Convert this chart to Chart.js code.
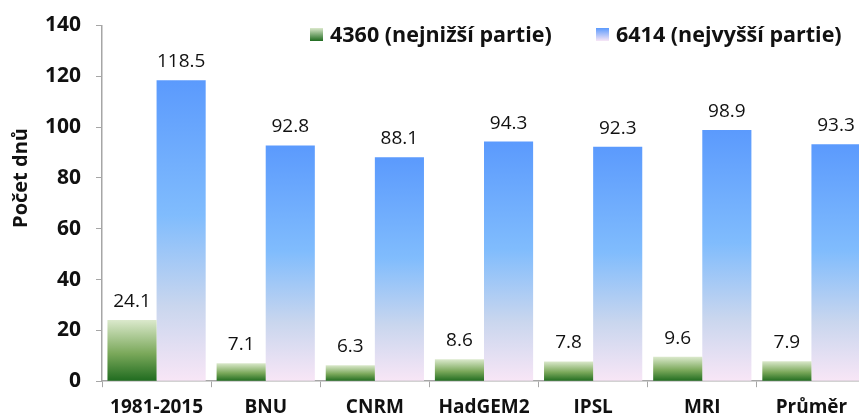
<!DOCTYPE html>
<html>
<head>
<meta charset="utf-8">
<script src="https://cdn.jsdelivr.net/npm/chart.js@4.4.0/dist/chart.umd.min.js"></script>
<style>
  html, body { margin: 0; padding: 0; background: #fff; overflow: hidden; }
  #wrap { position: relative; width: 866px; height: 428px; }
  .leg { position: absolute; top: 19px; font: bold 21.5px "Open Sans", "Liberation Sans", sans-serif; color: #111; white-space: nowrap; }
  .leg span.box { display: inline-block; width: 13px; height: 13px; margin-right: 7px; vertical-align: 1px; }
</style>
</head>
<body>
<div id="wrap">
  <canvas id="chart" width="866" height="428"></canvas>
  <div id="legend"></div>
</div>
<script>
// Počet dnů – low vs. high elevation
const categories = ['1981-2015', 'BNU', 'CNRM', 'HadGEM2', 'IPSL', 'MRI', 'Průměr'];
const lowValues = [24.1, 7.1, 6.3, 8.6, 7.8, 9.6, 7.9];
const highValues = [118.5, 92.8, 88.1, 94.3, 92.3, 98.9, 93.3];
const seriesNames = ['4360 (nejnižší partie)', '6414 (nejvyšší partie)'];
const yTicks = [0, 20, 40, 60, 80, 100, 120, 140];
const yTitle = 'Počet dnů';

const FONT = '"Open Sans", "Liberation Sans", sans-serif';

function barGradient(ctx, stops) {
  const chart = ctx.chart;
  const y = chart.scales.y;
  if (!y || ctx.type !== 'data') return stops[1][1];
  const top = y.getPixelForValue(ctx.raw);
  const bottom = y.getPixelForValue(0);
  if (!isFinite(top) || !isFinite(bottom) || top === bottom) return stops[1][1];
  const g = chart.ctx.createLinearGradient(0, bottom, 0, top);
  stops.forEach(s => g.addColorStop(s[0], s[1]));
  return g;
}

const greenStops = [[0, '#1f6b1f'], [0.45, '#7aa85a'], [1, '#dbe9cc']];
const blueStops = [[0, '#f8e6f6'], [0.25, '#c9d6ee'], [0.55, '#80bcfd'], [1, '#5b9afd']];

// legend (sits inside the plot area, top right)
const legendLeft = [310, 596];
const legendBoxes = ['linear-gradient(#dbe9cc,#1f6b1f)', 'linear-gradient(#5b9afd,#f8e6f6)'];
document.getElementById('legend').innerHTML = seriesNames.map((name, i) =>
  `<div class="leg" style="left:${legendLeft[i]}px"><span class="box" style="background:${legendBoxes[i]}"></span>${name}</div>`
).join('');

const valueLabels = {
  id: 'valueLabels',
  afterDatasetsDraw(chart) {
    const c = chart.ctx;
    c.save();
    c.font = '19px ' + FONT;
    c.fillStyle = '#111';
    c.textAlign = 'center';
    c.textBaseline = 'bottom';
    chart.data.datasets.forEach((ds, i) => {
      chart.getDatasetMeta(i).data.forEach((bar, j) => {
        c.fillText(ds.data[j].toFixed(1), bar.x, bar.y - 9);
      });
    });
    c.restore();
  }
};

// y title sits a bit above the middle of the axis, like the original
const yTitlePlugin = {
  id: 'yTitle',
  afterDraw(chart) {
    const c = chart.ctx;
    c.save();
    c.translate(21, 178);
    c.rotate(-Math.PI / 2);
    c.font = 'bold 20px ' + FONT;
    c.fillStyle = '#111';
    c.textAlign = 'center';
    c.textBaseline = 'middle';
    c.fillText(yTitle, 0, 0);
    c.restore();
  }
};

new Chart(document.getElementById('chart'), {
  type: 'bar',
  data: {
    labels: categories,
    datasets: [
      { label: seriesNames[0], data: lowValues, backgroundColor: ctx => barGradient(ctx, greenStops) },
      { label: seriesNames[1], data: highValues, backgroundColor: ctx => barGradient(ctx, blueStops) }
    ]
  },
  options: {
    responsive: false,
    animation: false,
    layout: { padding: { left: 10, top: -2, right: 0, bottom: 0 } },
    datasets: { bar: { categoryPercentage: 0.9, barPercentage: 1.0 } },
    plugins: { legend: { display: false }, tooltip: { enabled: false } },
    scales: {
      x: {
        grid: { display: true, drawOnChartArea: false, drawTicks: true, tickLength: 6, color: '#a6a6a6', offset: true },
        border: { color: '#a6a6a6', width: 1.5 },
        ticks: { color: '#111', font: { family: FONT, size: 19, weight: 'bold' }, padding: 9, maxRotation: 0 }
      },
      y: {
        min: 0, max: 140,
        afterBuildTicks: axis => { axis.ticks = yTicks.map(v => ({ value: v })); },
        afterFit: axis => { axis.width = 92; },
        grid: { display: true, drawOnChartArea: false, drawTicks: true, tickLength: 6, color: '#a6a6a6' },
        border: { color: '#a6a6a6', width: 1.5 },
        ticks: { color: '#111', font: { family: FONT, size: 21, weight: 'bold', lineHeight: 1.0 }, padding: 15 }
      }
    }
  },
  plugins: [valueLabels, yTitlePlugin]
});
</script>
</body>
</html>
